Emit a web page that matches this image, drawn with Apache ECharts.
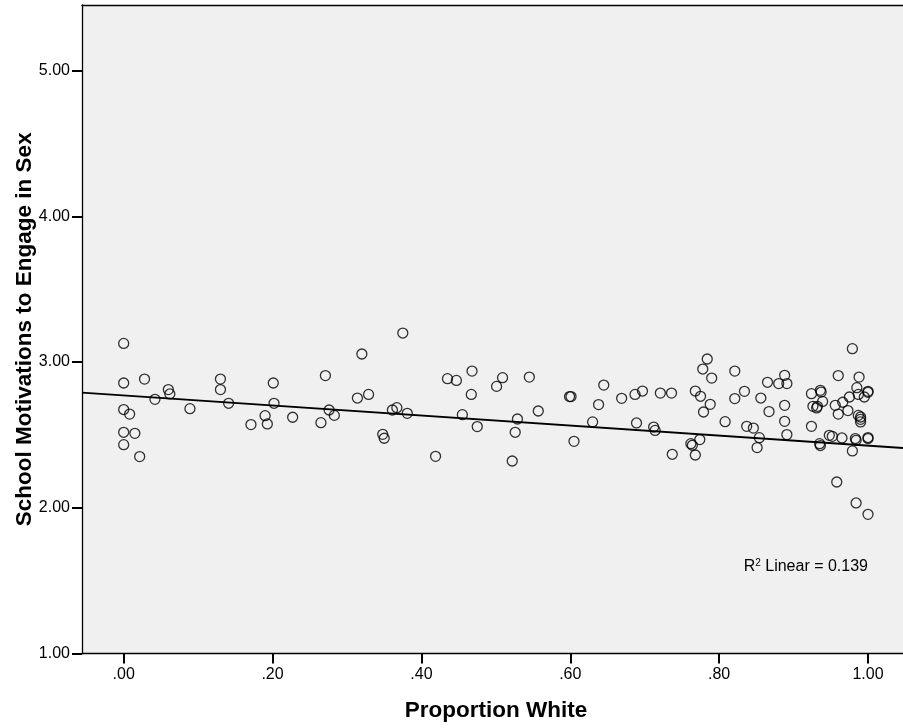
<!DOCTYPE html>
<html>
<head>
<meta charset="utf-8">
<script src="https://cdn.jsdelivr.net/npm/echarts@6/dist/echarts.min.js"></script>
<style>
  html, body { margin: 0; padding: 0; background: #fff; }
  #chart { width: 903px; height: 728px; }
</style>
</head>
<body>
<div id="chart"></div>
<script>
// Proportion White (x) vs School Motivations to Engage in Sex (y)
const propWhite = [
  0.000, 0.000, 0.028, 0.000, 0.008, 0.000, 0.015, 0.000, 0.0215, 0.042,
  0.060, 0.062, 0.089, 0.130, 0.130, 0.141, 0.171, 0.190, 0.193, 0.201,
  0.202, 0.227, 0.265, 0.271, 0.276, 0.283, 0.314, 0.320, 0.329, 0.348,
  0.350, 0.361, 0.367, 0.375, 0.381, 0.419, 0.435, 0.447, 0.455, 0.468,
  0.467, 0.475, 0.501, 0.509, 0.529, 0.526, 0.522, 0.545, 0.557, 0.599,
  0.601, 0.605, 0.630, 0.638, 0.645, 0.669, 0.687, 0.697, 0.689, 0.712,
  0.714, 0.721, 0.736, 0.737, 0.762, 0.764, 0.774, 0.768, 0.768, 0.775,
  0.788, 0.779, 0.778, 0.784, 0.790, 0.808, 0.821, 0.821, 0.834, 0.837,
  0.846, 0.854, 0.851, 0.856, 0.867, 0.865, 0.880, 0.888, 0.891, 0.888,
  0.888, 0.891, 0.924, 0.936, 0.937, 0.939, 0.926, 0.931, 0.932, 0.924,
  0.935, 0.936, 0.948, 0.952, 0.965, 0.960, 0.956, 0.960, 0.966, 0.973,
  0.975, 0.979, 0.988, 0.985, 0.987, 0.995, 1.000, 1.000, 0.987, 0.990,
  0.990, 0.990, 0.983, 0.984, 0.979, 1.000, 1.000, 0.958, 0.984, 1.000
];
const motivation = [
  3.128, 2.856, 2.883, 2.674, 2.643, 2.518, 2.511, 2.433, 2.351, 2.744,
  2.811, 2.781, 2.680, 2.883, 2.811, 2.717, 2.571, 2.632, 2.575, 2.856,
  2.717, 2.621, 2.584, 2.907, 2.671, 2.634, 2.753, 3.055, 2.778, 2.504,
  2.477, 2.671, 2.687, 3.199, 2.648, 2.353, 2.886, 2.874, 2.639, 2.938,
  2.778, 2.557, 2.833, 2.893, 2.609, 2.518, 2.321, 2.897, 2.664, 2.763,
  2.763, 2.456, 2.589, 2.708, 2.842, 2.751, 2.778, 2.801, 2.582, 2.554,
  2.531, 2.787, 2.787, 2.367, 2.440, 2.429, 2.468, 2.362, 2.801, 2.765,
  2.710, 2.657, 2.952, 3.021, 2.890, 2.591, 2.938, 2.749, 2.799, 2.559,
  2.547, 2.481, 2.413, 2.753, 2.660, 2.861, 2.852, 2.909, 2.852, 2.703,
  2.593, 2.502, 2.783, 2.806, 2.794, 2.730, 2.696, 2.685, 2.696, 2.559,
  2.440, 2.427, 2.497, 2.490, 2.479, 2.907, 2.703, 2.643, 2.724, 2.667,
  2.760, 3.092, 2.897, 2.824, 2.778, 2.760, 2.799, 2.792, 2.634, 2.623,
  2.607, 2.589, 2.475, 2.463, 2.390, 2.475, 2.482, 2.177, 2.033, 1.955
];

// linear fit line, endpoints at the axis limits
const fitX = [-0.056, 1.047];
const fitY = [2.790, 2.410];
const rSquared = '0.139';

const xTicks = [0, 0.2, 0.4, 0.6, 0.8, 1.0];
const yTicks = [1, 2, 3, 4, 5];

const FONT = 'Arial, "Liberation Sans", sans-serif';
const X_MIN = -0.056, X_MAX = 1.047;

const chart = echarts.init(document.getElementById('chart'), null, { renderer: 'canvas' });

function fmtX(v) {
  // SPSS style: drop the leading zero
  return v.toFixed(2).replace(/^0\./, '.');
}

chart.setOption({
  animation: false,
  backgroundColor: '#ffffff',
  grid: {
    left: 82, top: 5, right: 0, bottom: 74.5,
    containLabel: false,
    outerBoundsMode: 'none',
    show: true,
    backgroundColor: '#f0f0f0',
    borderWidth: 0
  },
  xAxis: [{
    type: 'value',
    min: X_MIN,
    max: X_MAX,
    name: 'Proportion White',
    nameLocation: 'middle',
    nameGap: 46,
    nameTextStyle: {
      fontFamily: FONT, fontSize: 22.5, fontWeight: 'bold', color: '#000',
      padding: [0, 0, 0, 7]
    },
    splitLine: { show: false },
    axisLine: { onZero: false, lineStyle: { color: '#000', width: 1.3 } },
    axisTick: { length: 10, lineStyle: { color: '#000', width: 2 }, customValues: xTicks },
    axisLabel: {
      margin: 13, fontFamily: FONT, fontSize: 16, color: '#000',
      customValues: xTicks, formatter: fmtX
    }
  }, {
    // top frame line only
    type: 'value',
    position: 'top',
    min: X_MIN,
    max: X_MAX,
    splitLine: { show: false },
    axisLine: { onZero: false, lineStyle: { color: '#000', width: 1.3 } },
    axisTick: { show: false },
    axisLabel: { show: false }
  }],
  yAxis: {
    type: 'value',
    min: 1,
    max: 5.45,
    name: 'School Motivations to Engage in Sex',
    nameLocation: 'middle',
    nameMoveOverlap: false,
    nameGap: 46,
    nameTextStyle: { fontFamily: FONT, fontSize: 22.5, fontWeight: 'bold', color: '#000' },
    splitLine: { show: false },
    axisLine: { onZero: false, lineStyle: { color: '#000', width: 1.3 } },
    axisTick: { length: 10, lineStyle: { color: '#000', width: 2 }, customValues: yTicks },
    axisLabel: {
      margin: 12, fontFamily: FONT, fontSize: 16, color: '#000',
      customValues: yTicks, formatter: v => v.toFixed(2)
    }
  },
  series: [
    {
      type: 'scatter',
      data: propWhite.map((x, i) => [x, motivation[i]]),
      symbol: 'circle',
      symbolSize: 10,
      itemStyle: { color: 'rgba(0,0,0,0)', borderColor: '#000', borderWidth: 1.3 },
      emphasis: { disabled: true },
      z: 3
    },
    {
      type: 'line',
      data: fitX.map((x, i) => [x, fitY[i]]),
      showSymbol: false,
      lineStyle: { color: '#000', width: 1.8 },
      emphasis: { disabled: true },
      z: 4
    }
  ],
  graphic: [{
    type: 'text',
    right: 35,
    top: 558,
    style: {
      text: '{r|R}{s|2}{r| Linear = ' + rSquared + '}',
      rich: {
        r: { fontFamily: FONT, fontSize: 16, color: '#000' },
        s: { fontFamily: FONT, fontSize: 10, color: '#000', verticalAlign: 'top', padding: [0, 0, 7, 0] }
      }
    },
    z: 10
  }]
});
</script>
</body>
</html>
